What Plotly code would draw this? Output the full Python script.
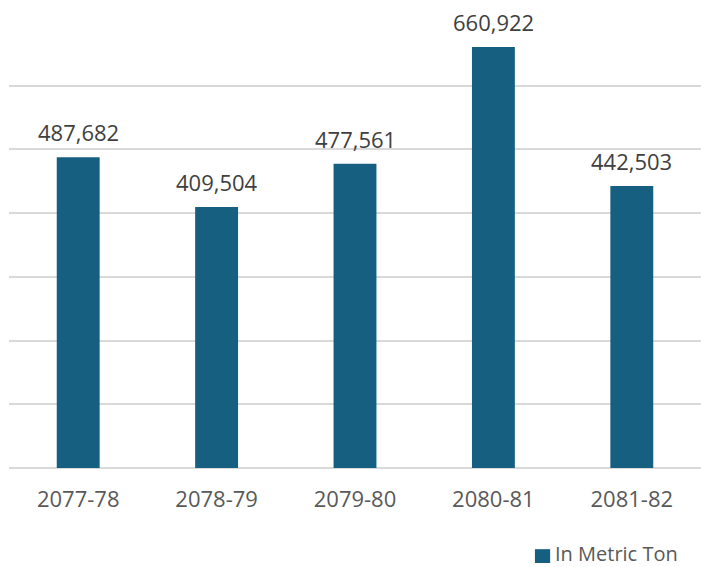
import plotly.graph_objects as go

# Annual quantity by fiscal year
years = ["2077-78", "2078-79", "2079-80", "2080-81", "2081-82"]
quantity = [487682, 409504, 477561, 660922, 442503]
series_name = "In Metric Ton"

bar_color = "#175f80"
font_family = "Open Sans, Lato, sans-serif"

fig = go.Figure()
fig.add_trace(go.Bar(
    x=years,
    y=quantity,
    name=series_name,
    marker=dict(color=bar_color, line=dict(width=0)),
    width=0.31,
    showlegend=False,
))

# Value labels above each bar
for yr, q in zip(years, quantity):
    fig.add_annotation(
        x=yr, y=q, text=f"{q:,}", showarrow=False,
        yanchor="middle", yshift=25,
        font=dict(family=font_family, size=22, color="#404040"),
    )

# Series key in the lower right: colour swatch plus name
fig.add_shape(
    type="rect", xref="paper", yref="paper",
    x0=0.760, x1=0.782, y0=-0.213, y1=-0.182,
    fillcolor=bar_color, line=dict(width=0),
)
fig.add_annotation(
    xref="paper", yref="paper", x=0.788, y=-0.191,
    xanchor="left", yanchor="middle", showarrow=False,
    borderpad=0,
    text=series_name,
    font=dict(family=font_family, size=20, color="#595959"),
)

fig.update_layout(
    width=701, height=567,
    margin=dict(l=9, r=0, t=22, b=99),
    paper_bgcolor="white", plot_bgcolor="white",
    font=dict(family=font_family, color="#595959"),
    bargap=0.69,
    xaxis=dict(
        showgrid=False, showline=False, zeroline=False,
        ticks="", ticklabelstandoff=16,
        tickfont=dict(family=font_family, size=22, color="#595959"),
    ),
    yaxis=dict(
        range=[0, 700000], dtick=100000,
        showgrid=True, gridcolor="#d9d9d9", gridwidth=1.5,
        zeroline=True, zerolinecolor="#d9d9d9", zerolinewidth=1.5,
        showticklabels=False, ticks="", showline=False,
    ),
)

fig.write_html("out.html")
